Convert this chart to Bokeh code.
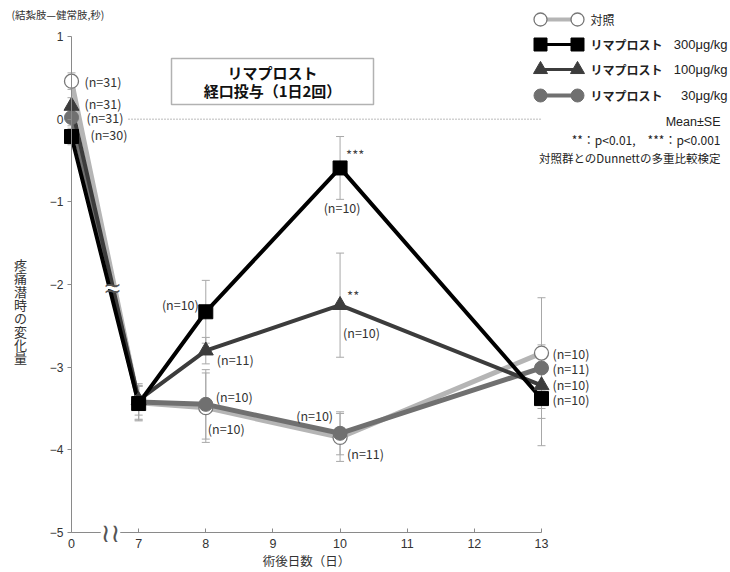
from bokeh.plotting import figure
from bokeh.models import (LinearAxis, FixedTicker, Range1d, ColumnDataSource,
                          Whisker, TeeHead, Label, BoxAnnotation)
from bokeh.embed import file_html
from bokeh.resources import INLINE

# ---------------- data ----------------
days = [0, 7, 8, 10, 13]
tick_days = [0, 7, 8, 9, 10, 11, 12, 13]

control = [0.46, -3.43, -3.49, -3.85, -2.83]
control_se = [0.10, 0.20, 0.42, 0.29, 0.67]
control_n = [31, None, 10, 11, 10]

r300 = [-0.21, -3.44, -2.33, -0.59, -3.38]
r300_se = [0.10, 0.21, 0.38, 0.38, 0.57]
r300_n = [30, None, 10, 10, 10]

r100 = [0.16, -3.40, -2.80, -2.25, -3.22]
r100_se = [0.10, 0.18, 0.16, 0.63, 0.40]
r100_n = [31, None, 11, 10, 10]

r30 = [0.02, -3.42, -3.45, -3.80, -3.01]
r30_se = [0.10, 0.22, 0.42, 0.26, 0.28]
r30_n = [31, None, 10, 10, 11]

sig_r300 = [None, None, None, "***", None]
sig_r100 = [None, None, None, "**", None]

y_ticks = [1, 0, -1, -2, -3, -4, -5]
y_tick_labels = ["1", "0", "\u22121", "\u22122", "\u22123", "\u22124", "\u22125"]

series_names = ["対照", "リマプロスト", "リマプロスト", "リマプロスト"]
dose_labels = ["", "300\u03bcg/kg", "100\u03bcg/kg", "30\u03bcg/kg"]

# ---------------- layout ----------------
W, H = 730, 572
BREAK_POS = 6          # day 0 drawn just before day 7 (axis break)
PXX = 470 / 7
PXY = 496 / 6
x_start = BREAK_POS - 71 / PXX
x_end = x_start + W / PXX
y_end = 1 + 36 / PXY
y_start = y_end - H / PXY


def X(px):
    return x_start + px / PXX


def Y(py):
    return y_end - py / PXY


def xpos(d):
    return d if d >= 7 else BREAK_POS + d


xs = [xpos(d) for d in days]

JP = "Noto Sans CJK JP"
NUM = "Liberation Sans"
TXT = "#333333"
AX = "#8a8a8a"

p = figure(width=W, height=H, output_backend="svg", toolbar_location=None,
           x_axis_type=None, y_axis_type=None, title=None,
           x_range=Range1d(x_start, x_end), y_range=Range1d(y_start, y_end),
           min_border=0, min_border_left=0, min_border_right=0,
           min_border_top=0, min_border_bottom=0)
p.outline_line_color = None
p.background_fill_color = "white"

# axes
xax = LinearAxis(fixed_location=-5, bounds=(BREAK_POS, 13),
                 ticker=FixedTicker(ticks=[xpos(d) for d in tick_days]),
                 major_label_overrides={xpos(d): str(d) for d in tick_days})
xax.axis_line_color = AX
xax.major_tick_line_color = AX
xax.major_tick_in = 4
xax.major_tick_out = 0
xax.minor_tick_line_color = None
xax.major_label_standoff = 6
xax.major_label_text_font = NUM
xax.major_label_text_font_size = "12.5px"
xax.major_label_text_color = TXT
xax.axis_label = "術後日数（日）"
xax.axis_label_text_font = JP
xax.axis_label_text_font_size = "12.5px"
xax.axis_label_text_font_style = "normal"
xax.axis_label_text_color = TXT
xax.axis_label_standoff = 0
p.add_layout(xax, "below")

yax = LinearAxis(fixed_location=BREAK_POS, bounds=(-5, 1),
                 ticker=FixedTicker(ticks=y_ticks),
                 major_label_overrides=dict(zip(y_ticks, y_tick_labels)))
yax.axis_line_color = AX
yax.major_tick_line_color = AX
yax.major_tick_in = 0
yax.major_tick_out = 4
yax.minor_tick_line_color = None
yax.major_label_standoff = 4
yax.major_label_text_font = NUM
yax.major_label_text_font_size = "12px"
yax.major_label_text_color = TXT
p.add_layout(yax, "left")

# zero reference line
p.line([X(128), 13], [0, 0], line_color="#777777", line_width=1, line_dash="1 2")

styles = [
    dict(vals=control, se=control_se, n=control_n, sig=None, line="#b5b5b5", lw=5,
         marker="circle", size=14, fill="white", mline="#777777", mlw=1.3),
    dict(vals=r300, se=r300_se, n=r300_n, sig=sig_r300, line="#000000", lw=4,
         marker="square", size=14, fill="#000000", mline="#000000", mlw=1),
    dict(vals=r100, se=r100_se, n=r100_n, sig=sig_r100, line="#3c3c3c", lw=4,
         marker="triangle", size=15, fill="#3c3c3c", mline="#3c3c3c", mlw=1),
    dict(vals=r30, se=r30_se, n=r30_n, sig=None, line="#707070", lw=5,
         marker="circle", size=14, fill="#707070", mline="#707070", mlw=1),
]

# error bars
for s in styles:
    src = ColumnDataSource(dict(x=xs,
                                up=[v + e for v, e in zip(s["vals"], s["se"])],
                                lo=[v - e for v, e in zip(s["vals"], s["se"])]))
    w = Whisker(source=src, base="x", upper="up", lower="lo", dimension="height",
                line_color="#a8a8a8", line_width=1,
                upper_head=TeeHead(size=8, line_color="#a8a8a8", line_width=1),
                lower_head=TeeHead(size=8, line_color="#a8a8a8", line_width=1))
    p.add_layout(w)

draw_order = [0, 3, 2, 1]
for i in draw_order:
    s = styles[i]
    p.line(xs, s["vals"], line_color=s["line"], line_width=s["lw"], line_join="round")
for i in draw_order:
    s = styles[i]
    p.scatter(xs, s["vals"], marker=s["marker"], size=s["size"], fill_color=s["fill"],
              line_color=s["mline"], line_width=s["mlw"])

# n labels: (dx, dy-down, align) per point
n_offsets = [
    [(13, 0, "left"), None, (2, 21, "left"), (7, 16, "left"), (11, 0, "left")],
    [(19, -2, "left"), None, (-7, -7, "right"), (2, 40, "center"), (11, 1, "left")],
    [(13, -2, "left"), None, (11, 9, "left"), (3, 27, "left"), (11, -1, "left")],
    [(15, 0, "left"), None, (10, -8, "left"), (-7, -18, "right"), (11, 1, "left")],
]
sig_offsets = [None, (6, -13), (7, -10), None]

for si, s in enumerate(styles):
    for k in range(len(days)):
        if s["n"][k] is None or n_offsets[si][k] is None:
            continue
        dx, dy, al = n_offsets[si][k]
        p.add_layout(Label(x=xs[k], y=s["vals"][k], x_offset=dx, y_offset=-dy,
                           text=f"(n={s['n'][k]})", text_align=al, text_baseline="middle",
                           text_font=JP, text_font_size="12.5px", text_color=TXT))
        if s["sig"] is not None and s["sig"][k]:
            sx, sy = sig_offsets[si]
            p.add_layout(Label(x=xs[k], y=s["vals"][k], x_offset=sx, y_offset=-sy,
                               text=s["sig"][k], text_align="left", text_baseline="middle",
                               text_font=JP, text_font_size="13px", text_color="#444444"))

# axis-break marks
p.add_layout(Label(x=X(110), y=-5, text="\u2240\u2240", text_align="center",
                   text_baseline="middle", text_font="DejaVu Sans", text_font_size="26px",
                   text_color="#555555", background_fill_color="white"))
p.add_layout(Label(x=X(112), y=Y(287), text="~", text_align="center",
                   text_baseline="middle", text_font="DejaVu Sans", text_font_size="30px",
                   text_font_style="bold", text_color="white"))
for off in (-3, 3):
    p.add_layout(Label(x=X(112), y=Y(287), y_offset=off, text="~", text_align="center",
                       text_baseline="middle", text_font="DejaVu Sans",
                       text_font_size="22px", text_color="#555555"))

# title box
p.add_layout(BoxAnnotation(left=X(171), right=X(373), top=Y(58), bottom=Y(104),
                           fill_color="white", fill_alpha=1, line_color="black",
                           line_width=1.5))
p.add_layout(Label(x=X(272), y=Y(72), text="リマプロスト", text_align="center",
                   text_baseline="middle", text_font=JP, text_font_size="15px",
                   text_font_style="bold", text_color="#111111"))
p.add_layout(Label(x=X(272), y=Y(90), text="経口投与（1日2回）", text_align="center",
                   text_baseline="middle", text_font=JP, text_font_size="15px",
                   text_font_style="bold", text_color="#111111"))

# axis texts
p.add_layout(Label(x=X(11), y=Y(14), text="(結紮肢—健常肢,秒)", text_align="left",
                   text_baseline="middle", text_font=JP, text_font_size="10.5px",
                   text_color=TXT))
for i, ch in enumerate("疼痛潜時の変化量"):
    p.add_layout(Label(x=X(20), y=Y(264 + i * 13.3), text=ch,
                       text_align="center", text_baseline="middle", text_font=JP,
                       text_font_size="13px", text_color=TXT))

# legend
rows_y = [19, 44, 69, 95]
for r, s in zip(rows_y, styles):
    p.line([X(540), X(577)], [Y(r), Y(r)], line_color=s["line"], line_width=s["lw"] - 1)
    p.scatter([X(540), X(577)], [Y(r), Y(r)], marker=s["marker"], size=s["size"] - 1,
              fill_color=s["fill"], line_color=s["mline"], line_width=s["mlw"])
for i, (r, name, dose) in enumerate(zip(rows_y, series_names, dose_labels)):
    p.add_layout(Label(x=X(590), y=Y(r), text=name, text_align="left",
                       text_baseline="middle", text_font=JP, text_font_size="12px",
                       text_font_style="normal" if i == 0 else "bold", text_color="#222222"))
    if dose:
        p.add_layout(Label(x=X(727), y=Y(r), text=dose, text_align="right",
                           text_baseline="middle", text_font=NUM, text_font_size="13px",
                           text_color="#222222"))

notes = [("Mean\u00b1SE", 121, NUM, "12.5px"),
         ("**：p<0.01,　***：p<0.001", 139, JP, "12px"),
         ("対照群とのDunnettの多重比較検定", 157, JP, "11.5px")]
for t, yy, f, fs in notes:
    p.add_layout(Label(x=X(720), y=Y(yy), text=t, text_align="right",
                       text_baseline="middle", text_font=f, text_font_size=fs,
                       text_color="#222222"))

open("out.html", "w").write(file_html(p, INLINE))
